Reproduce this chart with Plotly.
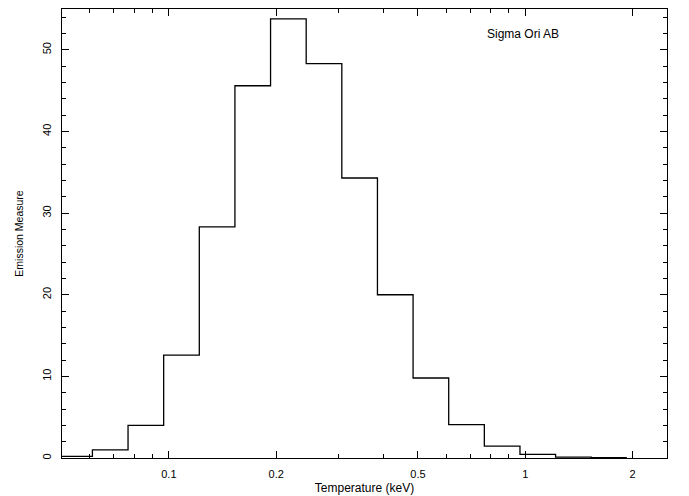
import plotly.graph_objects as go

# log10 temperature (K) bin centres and emission measure per bin
logT_K_centres = [5.8, 5.9, 6.0, 6.1, 6.2, 6.3, 6.4, 6.5, 6.6, 6.7, 6.8, 6.9, 7.0, 7.1, 7.2, 7.3]
emission_measure = [0.2, 1.0, 4.0, 12.6, 28.3, 45.6, 53.8, 48.3, 34.3, 20.0, 9.8, 4.1, 1.45, 0.45, 0.1, 0.05]
bin_width_dex = 0.1
K_PER_KEV = 1.1605e7

x_tick_vals = [0.1, 0.2, 0.5, 1, 2]
x_tick_text = ["0.1", "0.2", "0.5", "1", "2"]
x_minor_vals = [0.06, 0.07, 0.08, 0.09, 0.3, 0.4, 0.6, 0.7, 0.8, 0.9]
y_tick_vals = [0, 10, 20, 30, 40, 50]
label_text = "Sigma Ori AB"

# bin edges in keV
edges = [10 ** (c - bin_width_dex / 2) / K_PER_KEV for c in logT_K_centres]
edges.append(10 ** (logT_K_centres[-1] + bin_width_dex / 2) / K_PER_KEV)
ys = emission_measure + [emission_measure[-1]]

fig = go.Figure()
fig.add_trace(go.Scatter(
    x=edges, y=ys, mode="lines", line=dict(color="black", width=1.3, shape="hv"),
    showlegend=False, hoverinfo="skip"))

font = "Liberation Sans, Arial, Helvetica, sans-serif"
fig.update_layout(
    width=689, height=496,
    margin=dict(l=62, r=22, t=9, b=38),
    paper_bgcolor="white", plot_bgcolor="white",
    font=dict(family=font, size=12, color="black"),
    xaxis=dict(
        type="log", range=[-1.3, 0.398], automargin=False,
        tickmode="array", tickvals=x_tick_vals, ticktext=x_tick_text,
        ticks="inside", ticklen=7, tickcolor="black", tickwidth=1,
        minor=dict(tickmode="array", tickvals=x_minor_vals, ticks="inside",
                   ticklen=4, tickcolor="black", showgrid=False),
        showline=True, linecolor="black", linewidth=1, mirror="ticks",
        showgrid=False, zeroline=False,
        tickfont=dict(size=11), ticklabelstandoff=6,
        title=dict(text="Temperature (keV)", font=dict(size=12), standoff=4),
    ),
    yaxis=dict(
        range=[0, 55], automargin=False,
        tickmode="array", tickvals=y_tick_vals,
        ticks="inside", ticklen=7, tickcolor="black", tickwidth=1,
        minor=dict(dtick=2, ticks="inside", ticklen=4, tickcolor="black", showgrid=False),
        showline=True, linecolor="black", linewidth=1, mirror="ticks",
        showgrid=False, zeroline=False, tickangle=-90,
        tickfont=dict(size=11), ticklabelstandoff=6,
        title=dict(text="Emission Measure", font=dict(size=10.5), standoff=14),
    ),
    annotations=[dict(text=label_text, xref="paper", yref="paper", x=0.762, y=0.945,
                      showarrow=False, font=dict(size=12), xanchor="center", yanchor="middle")],
)

fig.write_html("out.html", config={"displayModeBar": False},
               post_script="document.body.style.margin='0';document.body.style.overflow='hidden';")
